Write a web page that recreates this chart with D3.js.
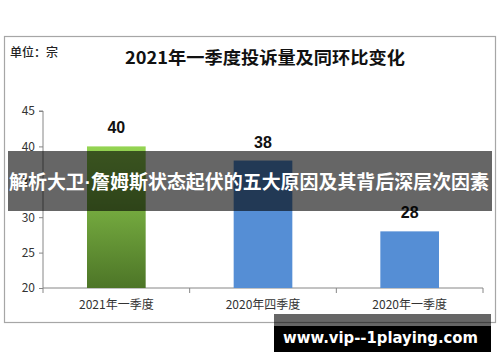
<!DOCTYPE html>
<html><head><meta charset="utf-8">
<script src="https://cdn.jsdelivr.net/npm/d3@7/dist/d3.min.js"></script>
<style>html,body{margin:0;padding:0;background:#fff;}svg{display:block;}</style>
</head><body>
<script>
const categories = ["2021年一季度", "2020年四季度", "2020年一季度"];
const values = [40, 38, 28];
const yTicks = [20, 25, 30, 35, 40, 45];
const titleText = "2021年一季度投诉量及同环比变化";
const unitText = "单位：宗";
const bannerText = "解析大卫·詹姆斯状态起伏的五大原因及其背后深层次因素";
const watermarkText = "www.vip--1playing.com";

const W = 500, H = 362;
const svg = d3.select("body").append("svg").attr("width", W).attr("height", H);
const defs = svg.append("defs");
const g1 = defs.append("linearGradient").attr("id", "green").attr("x1", 0).attr("y1", 0).attr("x2", 0).attr("y2", 1);
g1.append("stop").attr("offset", "0%").attr("stop-color", "#94d452");
g1.append("stop").attr("offset", "100%").attr("stop-color", "#4d7527");

const cjk = "'Noto Sans CJK SC', 'Noto Sans', sans-serif";

// chart frame
svg.append("rect").attr("x", 4.5).attr("y", 36.5).attr("width", 491).attr("height", 286)
  .attr("fill", "#fff").attr("stroke", "#a6a6a6").attr("stroke-width", 1.2);

const x = d3.scaleBand().domain(categories).range([43, 483]).paddingInner(0.6).paddingOuter(0.3);
const y = d3.scaleLinear().domain([20, 45]).range([288, 111]);

// y axis
const yAxis = svg.append("g").attr("transform", "translate(43,0)")
  .call(d3.axisLeft(y).tickValues(yTicks).tickSize(4).tickPadding(4));
yAxis.selectAll("path,line").attr("stroke", "#868686");
yAxis.select(".domain").attr("d", `M-4,${y(45)}H0V${y(20)}`);
yAxis.selectAll("text").attr("font-family", cjk).attr("font-size", 12).attr("fill", "#333");

// x axis
const xAxis = svg.append("g").attr("transform", `translate(0,${y(20)})`)
  .call(d3.axisBottom(x).tickSize(0).tickPadding(12));
xAxis.select(".domain").attr("stroke", "#868686").attr("d", `M43,0H483`);
xAxis.selectAll("text").attr("font-family", cjk).attr("font-size", 12).attr("fill", "#333");
const step = x.step();
const bounds = [43, 43 + step, 43 + 2 * step, 483];
svg.append("g").selectAll("line").data(bounds).join("line")
  .attr("x1", d => d).attr("x2", d => d).attr("y1", y(20)).attr("y2", y(20) + 5)
  .attr("stroke", "#868686");

// bars
svg.append("g").selectAll("rect").data(values).join("rect")
  .attr("x", (d, i) => x(categories[i]))
  .attr("width", x.bandwidth())
  .attr("y", d => y(d))
  .attr("height", d => y(20) - y(d))
  .attr("fill", (d, i) => i === 0 ? "url(#green)" : "#558ed5");

// value labels
svg.append("g").selectAll("text").data(values).join("text")
  .attr("x", (d, i) => x(categories[i]) + x.bandwidth() / 2)
  .attr("y", d => y(d) - 13)
  .attr("text-anchor", "middle")
  .attr("font-family", "'Liberation Sans', sans-serif").attr("font-weight", "bold")
  .attr("font-size", 16).attr("fill", "#111")
  .text(d => d);

// title
svg.append("text").attr("x", 265).attr("y", 64).attr("text-anchor", "middle")
  .attr("font-family", cjk).attr("font-weight", "bold").attr("font-size", 17).attr("fill", "#111")
  .attr("textLength", 280).attr("lengthAdjust", "spacingAndGlyphs")
  .text(titleText);
svg.append("text").attr("x", 10).attr("y", 57)
  .attr("font-family", cjk).attr("font-size", 12).attr("font-weight", 500).attr("fill", "#222")
  .text(unitText);

// banner
svg.append("rect").attr("x", 8).attr("y", 151).attr("width", 484).attr("height", 60)
  .attr("fill", "rgba(0,0,0,0.6)");
const parts = bannerText.split("·");
const bt = svg.append("text").attr("x", 9).attr("y", 189)
  .attr("font-family", cjk).attr("font-weight", "bold").attr("font-size", 19).attr("fill", "#fff")
  .attr("textLength", 480).attr("lengthAdjust", "spacingAndGlyphs");
bt.append("tspan").text(parts[0]);
bt.append("tspan").attr("font-family", "'Liberation Sans', sans-serif").text("·");
bt.append("tspan").text(parts[1]);

// watermark
svg.append("rect").attr("x", 274).attr("y", 314).attr("width", 217).attr("height", 12).attr("fill", "rgba(0,0,0,0.6)");
svg.append("rect").attr("x", 274).attr("y", 326).attr("width", 217).attr("height", 26).attr("fill", "#000");
svg.append("text").attr("x", 283).attr("y", 343)
  .attr("font-family", "'DejaVu Sans', sans-serif").attr("font-weight", "bold").attr("font-size", 16).attr("fill", "#fff")
  .attr("textLength", 195).attr("lengthAdjust", "spacingAndGlyphs")
  .text(watermarkText);
</script>
</body></html>
